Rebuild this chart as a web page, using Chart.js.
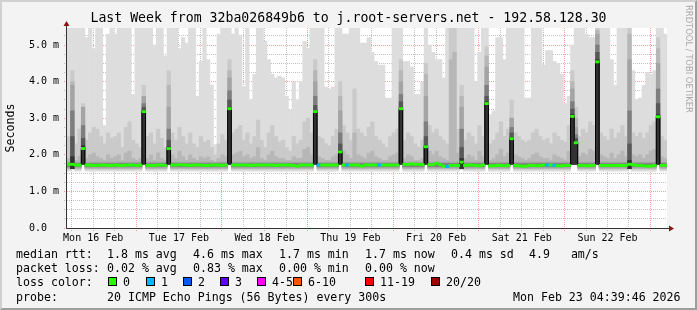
<!DOCTYPE html>
<html>
<head>
<meta charset="utf-8">
<script src="https://cdn.jsdelivr.net/npm/chart.js@4.4.0/dist/chart.umd.min.js"></script>
<style>
  html, body { margin: 0; padding: 0; background: #f3f3f3; }
  #wrap { position: relative; width: 697px; height: 310px; overflow: hidden; background: #f3f3f3; }
  #chart { position: absolute; left: 0; top: 0; }
  #frame { position: absolute; left: 0; top: 0; width: 697px; height: 310px; box-sizing: border-box;
           border-style: solid; border-width: 2px; border-color: #d0d0d0 #9e9e9e #9e9e9e #d0d0d0; pointer-events: none; }
  .lg { position: absolute; font-family: 'DejaVu Sans Mono', monospace; font-size: 11.6px; line-height: 14px; white-space: pre; color: #000; }
  .box { position: absolute; width: 7px; height: 7px; border: 1px solid #000; }
  #mark { position: absolute; left: 683px; top: 5px; writing-mode: vertical-rl; font-family: 'DejaVu Sans', sans-serif;
          font-size: 8.4px; line-height: 11px; color: #aaa; white-space: nowrap; }
</style>
</head>
<body>
<div id="wrap">
  <canvas id="chart" width="697" height="310"></canvas>
  <div id="mark">RRDTOOL / TOBI OETIKER</div>

  <div class="lg" style="left:16px;top:247px">median rtt:</div>
  <div class="lg" style="left:107px;top:247px">1.8 ms avg</div>
  <div class="lg" style="left:193px;top:247px">4.6 ms max</div>
  <div class="lg" style="left:279px;top:247px">1.7 ms min</div>
  <div class="lg" style="left:365px;top:247px">1.7 ms now</div>
  <div class="lg" style="left:451px;top:247px">0.4 ms sd</div>
  <div class="lg" style="left:529px;top:247px">4.9   am/s</div>

  <div class="lg" style="left:16px;top:261px">packet loss:</div>
  <div class="lg" style="left:107px;top:261px">0.02 % avg</div>
  <div class="lg" style="left:193px;top:261px">0.83 % max</div>
  <div class="lg" style="left:279px;top:261px">0.00 % min</div>
  <div class="lg" style="left:365px;top:261px">0.00 % now</div>

  <div class="lg" style="left:16px;top:275px">loss color:</div>
  <div id="lossLegend"></div>

  <div class="lg" style="left:16px;top:290px">probe:</div>
  <div class="lg" style="left:107px;top:290px">20 ICMP Echo Pings (56 Bytes) every 300s</div>
  <div class="lg" style="left:513px;top:290px">Mon Feb 23 04:39:46 2026</div>

  <div id="frame"></div>
</div>
<script>
// time axis: hours since Mon 16 Feb 00:00, one smoke bin per hour
const dayLabels = ["Mon 16 Feb", "Tue 17 Feb", "Wed 18 Feb", "Thu 19 Feb", "Fri 20 Feb", "Sat 21 Feb", "Sun 22 Feb"];
const startHour = 4.663; // Mon 16 Feb 04:39:46
const endHour = startHour + 168;
const yMax = 5.465; // ms

// top of the lightest smoke (slowest ping), ms
const smokeMax = [
  5.5, 5.5, 5.5, 5.5, 5.5, 5.2, 5.5, 4.9, 5.5, 5.5, 2.8, 5.3,
  5.5, 5.3, 5.5, 5.5, 5.5, 5.5, 3.65, 5.5, 5.5, 5.5, 5.5, 5.5,
  5.0, 5.5, 5.5, 4.7, 5.5, 5.5, 5.5, 4.9, 5.2, 5.05, 5.5, 5.5,
  3.6, 4.55, 5.5, 4.6, 3.9, 2.28, 5.3, 5.5, 5.5, 5.5, 5.3, 5.5,
  5.27, 3.86, 5.5, 3.5, 4.2, 5.5, 5.5, 5.1, 4.6, 4.2, 4.1, 4.15,
  4.1, 3.6, 3.22, 4.0, 3.5, 4.0, 5.1, 4.9, 5.5, 5.5, 5.5, 5.5,
  3.85, 3.8, 3.85, 5.5, 5.5, 5.3, 5.3, 5.5, 5.5, 5.5, 5.05, 5.05,
  5.2, 4.8, 4.55, 4.45, 4.45, 3.55, 3.55, 5.5, 5.5, 5.5, 4.55, 4.55,
  4.4, 3.65, 3.65, 4.0, 5.5, 5.0, 4.8, 4.6, 4.6, 4.1, 5.5, 5.5,
  5.5, 5.5, 5.5, 5.5, 5.5, 5.5, 4.0, 4.8, 5.5, 5.5, 3.1, 3.2,
  5.2, 5.2, 4.6, 5.5, 5.5, 5.5, 5.5, 5.5, 3.55, 3.55, 5.5, 5.5,
  5.5, 4.45, 4.85, 4.85, 4.55, 4.5, 4.2, 3.4, 3.6, 5.0, 5.5, 5.5,
  5.5, 5.3, 5.2, 5.2, 5.5, 5.5, 5.5, 5.5, 4.6, 3.9, 5.5, 5.5,
  5.5, 5.5, 4.3, 3.5, 3.55, 3.9, 4.25, 4.2, 4.3, 5.5, 5.5, 5.3
];

// second slowest ping (top of next smoke layer), ms
const smokeP19 = [
  2.5, 4.3, 2.3, 2.7, 3.4, 2.4, 2.6, 2.75, 2.7, 2.5, 2.3, 2.6,
  2.45, 2.5, 2.6, 2.2, 2.75, 2.9, 2.4, 2.3, 2.2, 3.9, 2.5, 2.6,
  2.3, 2.7, 2.45, 2.2, 4.3, 2.6, 2.4, 2.75, 2.5, 2.3, 2.6, 2.3,
  2.2, 2.5, 2.35, 2.4, 2.2, 2.0, 2.3, 2.55, 2.4, 4.6, 2.6, 2.7,
  2.8, 2.4, 2.6, 2.3, 2.5, 2.95, 2.4, 2.2, 2.6, 2.8, 2.5, 2.35,
  2.4, 2.2, 2.1, 2.5, 2.3, 2.4, 2.9, 3.0, 2.6, 4.6, 2.5, 2.45,
  2.3, 2.25, 2.5, 2.7, 4.0, 2.8, 2.6, 2.4, 3.8, 2.7, 2.6, 2.5,
  2.75, 2.9, 2.5, 2.4, 2.3, 2.2, 2.5, 2.6, 2.7, 4.6, 2.4, 2.6,
  2.5, 2.3, 2.2, 2.4, 4.5, 2.8, 2.6, 2.7, 2.5, 2.4, 2.3, 5.5,
  5.5, 2.7, 3.9, 2.4, 2.6, 2.5, 2.3, 2.8, 2.5, 4.95, 2.3, 2.4,
  2.6, 2.9, 2.5, 2.7, 3.5, 2.6, 2.5, 2.4, 2.35, 2.4, 2.6, 2.7,
  2.5, 2.4, 2.45, 2.3, 2.6, 2.5, 2.4, 2.35, 2.8, 4.3, 3.3, 2.5,
  2.7, 2.6, 2.9, 2.8, 5.5, 2.6, 2.5, 2.4, 2.7, 2.45, 2.6, 2.8,
  2.5, 5.5, 2.6, 2.5, 2.6, 2.45, 2.6, 2.8, 2.9, 5.2, 2.5, 2.4
];

// third slowest ping, ms
const smokeP18 = [
  1.9, 4.0, 1.85, 1.95, 3.0, 1.9, 2.0, 2.05, 1.95, 1.9, 1.85, 2.0,
  1.9, 1.95, 2.0, 1.85, 2.05, 2.1, 1.9, 1.85, 1.9, 3.6, 1.9, 2.0,
  1.85, 2.05, 1.9, 1.85, 3.9, 2.0, 1.9, 2.1, 1.95, 1.85, 2.0, 1.9,
  1.85, 1.95, 1.9, 1.95, 1.85, 1.8, 1.9, 2.0, 1.95, 4.3, 2.0, 2.05,
  2.1, 1.95, 2.0, 1.9, 1.95, 2.2, 1.9, 1.85, 2.0, 2.1, 1.95, 1.9,
  1.9, 1.85, 1.85, 1.95, 1.9, 1.9, 2.15, 2.2, 2.0, 4.3, 1.95, 1.9,
  1.85, 1.85, 1.95, 2.0, 3.6, 2.1, 2.0, 1.9, 2.6, 2.0, 1.95, 1.9,
  2.05, 2.1, 1.95, 1.9, 1.85, 1.85, 1.95, 2.0, 2.05, 4.3, 1.9, 2.0,
  1.95, 1.85, 1.85, 1.9, 4.2, 2.1, 2.0, 2.1, 1.95, 1.9, 1.85, 4.6,
  4.8, 2.05, 3.6, 1.9, 2.0, 1.95, 1.85, 2.1, 1.95, 4.7, 1.85, 1.9,
  2.0, 2.15, 1.95, 2.05, 3.0, 2.0, 1.95, 1.9, 1.85, 1.9, 2.0, 2.05,
  1.95, 1.9, 1.9, 1.85, 2.0, 1.95, 1.9, 1.85, 2.1, 4.0, 3.0, 1.95,
  2.05, 2.0, 2.15, 2.1, 5.4, 2.0, 1.95, 1.9, 2.05, 1.9, 2.0, 2.1,
  1.95, 5.3, 2.0, 1.95, 2.0, 1.9, 2.0, 2.1, 2.15, 4.9, 1.95, 1.9
];

// median rtt per hour, ms
const medianRtt = [
  1.74, 1.74, 1.72, 1.72, 2.17, 1.72, 1.72, 1.71, 1.71, 1.72, 1.72, 1.71,
  1.71, 1.72, 1.71, 1.71, 1.72, 1.72, 1.72, 1.71, 1.72, 3.18, 1.71, 1.71,
  1.71, 1.72, 1.72, 1.71, 2.17, 1.72, 1.72, 1.73, 1.72, 1.72, 1.71, 1.72,
  1.72, 1.72, 1.71, 1.71, 1.72, 1.72, 1.72, 1.71, 1.72, 3.26, 1.72, 1.72,
  1.72, 1.72, 1.72, 1.71, 1.72, 1.72, 1.72, 1.72, 1.72, 1.72, 1.71, 1.72,
  1.72, 1.72, 1.72, 1.71, 1.69, 1.72, 1.72, 1.72, 1.72, 3.18, 1.72, 1.72,
  1.72, 1.72, 1.72, 1.72, 2.08, 1.72, 1.72, 1.72, 1.72, 1.72, 1.69, 1.72,
  1.72, 1.72, 1.72, 1.72, 1.72, 1.72, 1.72, 1.72, 1.72, 3.26, 1.74, 1.74,
  1.75, 1.74, 1.74, 1.73, 2.22, 1.73, 1.73, 1.77, 1.73, 1.69, 1.68, 1.71,
  1.71, 1.71, 1.80, 1.71, 1.72, 1.72, 1.71, 1.70, 1.72, 3.40, 1.70, 1.70,
  1.71, 1.71, 1.70, 1.71, 2.44, 1.71, 1.70, 1.69, 1.69, 1.71, 1.71, 1.70,
  1.71, 1.72, 1.72, 1.72, 1.71, 1.70, 1.70, 1.71, 1.71, 3.05, 2.33, 1.71,
  1.71, 1.70, 1.71, 1.71, 4.54, 1.71, 1.71, 1.71, 1.71, 1.71, 1.71, 1.71,
  1.71, 1.74, 1.73, 1.71, 1.71, 1.70, 1.69, 1.69, 1.71, 3.04, 1.71, 1.71
];

// hours where 1 of 20 pings was lost
const lossOneBins = [70, 78, 87, 106, 134, 136];

// dark smoke columns: bin -> [bottom, top #a4a4a4, top #7e7e7e, top #585858, top #323232]
const darkColumns = {
  1: [1.62, 3.9, 3.2, 2.5, 1.95],
  4: [1.74, 3.3, 2.8, 2.45, 2.25],
  21: [1.74, 3.6, 3.4, 3.3, 3.22],
  28: [1.74, 3.3, 2.7, 2.4, 2.22],
  45: [1.74, 4.1, 3.75, 3.5, 3.3],
  69: [1.74, 4.0, 3.6, 3.35, 3.22],
  76: [1.74, 3.2, 2.6, 2.3, 2.12],
  93: [1.74, 4.0, 3.65, 3.45, 3.3],
  100: [1.74, 3.6, 2.9, 2.5, 2.26],
  110: [1.62, 3.3, 2.7, 2.2, 1.9],
  117: [1.74, 4.4, 3.9, 3.6, 3.45],
  124: [1.74, 3.0, 2.75, 2.6, 2.48],
  141: [1.74, 3.8, 3.45, 3.25, 3.1],
  142: [1.74, 2.75, 2.55, 2.45, 2.37],
  148: [1.74, 5.3, 5.0, 4.8, 4.6],
  157: [1.62, 4.6, 3.2, 2.3, 1.85],
  165: [1.74, 4.5, 3.8, 3.4, 3.1]
};

// fastest pings, shared by ordinary hours
const smokeFloor = [1.55, 1.60, 1.63];
const coreBand = [[1.64, 1.80], [1.68, 1.76]];

const lossNames = ["0", "1", "2", "3", "4-5", "6-10", "11-19", "20/20"];
const lossColors = ["#26ff00", "#00b8ff", "#0059ff", "#5e00ff", "#ff00fe", "#ff5500", "#ff0000", "#a10000"];
const smokeGrays = ["#dddddd", "#cacaca", "#b7b7b7", "#a4a4a4", "#7e7e7e", "#585858", "#323232"];

// legend boxes
const boxLeft = [108, 146, 183, 220, 257, 293, 365, 431];
const lossLegend = document.getElementById("lossLegend");
lossNames.forEach((name, k) => {
  const b = document.createElement("div");
  b.className = "box";
  b.style.left = boxLeft[k] + "px";
  b.style.top = "277px";
  b.style.background = lossColors[k];
  lossLegend.appendChild(b);
  const t = document.createElement("div");
  t.className = "lg";
  t.style.left = (boxLeft[k] + 15) + "px";
  t.style.top = "275px";
  t.textContent = name;
  lossLegend.appendChild(t);
});

const center = i => startHour + i + 0.5;

// smoke layers as floating bars
const layers = [[], [], [], [], [], [], []];
medianRtt.forEach((m, i) => {
  const dark = darkColumns[i];
  const tops = [smokeMax[i], smokeP19[i], smokeP18[i]];
  tops.forEach((top, k) => {
    layers[k].push({ x: center(i), y: [dark ? dark[0] : smokeFloor[k], top] });
  });
  if (dark) {
    for (let k = 0; k < 4; k++) layers[3 + k].push({ x: center(i), y: [dark[0], dark[1 + k]] });
  } else {
    layers[3].push({ x: center(i), y: coreBand[0] });
    layers[4].push({ x: center(i), y: coreBand[1] });
  }
});

const smokeSets = layers.map((data, k) => ({
  type: "bar",
  data: data,
  backgroundColor: smokeGrays[k],
  borderWidth: 0,
  grouped: false,
  barPercentage: 1,
  categoryPercentage: 1,
  order: 20 - k
}));

// median line (stepped) and loss coloured marks
const medianLine = medianRtt.map((m, i) => ({ x: startHour + i, y: m }));
medianLine.push({ x: endHour, y: medianRtt[medianRtt.length - 1] });

const medianMarks = medianRtt.map((m, i) => ({ x: center(i), y: [m - 0.03, m + 0.03] }));
const markColors = medianRtt.map((m, i) => lossOneBins.includes(i) ? lossColors[1] : lossColors[0]);

const bgPlugin = {
  id: "plotBg",
  beforeDraw(chart) {
    const { ctx, chartArea: a } = chart;
    ctx.save();
    ctx.fillStyle = "#ffffff";
    ctx.fillRect(a.left, a.top, a.right - a.left, a.bottom - a.top);
    ctx.restore();
  },
  afterDraw(chart) {
    const { ctx, chartArea: a } = chart;
    ctx.save();
    ctx.strokeStyle = "#333333";
    ctx.lineWidth = 1;
    ctx.beginPath();
    ctx.moveTo(a.left - 0.5, a.bottom + 0.5);
    ctx.lineTo(a.right + 3, a.bottom + 0.5);
    ctx.moveTo(a.left - 0.5, a.bottom + 0.5);
    ctx.lineTo(a.left - 0.5, a.top - 3);
    ctx.stroke();
    ctx.fillStyle = "#8c1414";
    ctx.beginPath();
    ctx.moveTo(a.right + 7, a.bottom + 0.5);
    ctx.lineTo(a.right + 2, a.bottom - 2.5);
    ctx.lineTo(a.right + 2, a.bottom + 3.5);
    ctx.fill();
    ctx.beginPath();
    ctx.moveTo(a.left - 0.5, a.top - 7);
    ctx.lineTo(a.left - 3.5, a.top - 2);
    ctx.lineTo(a.left + 2.5, a.top - 2);
    ctx.fill();
    ctx.restore();
  }
};

const monoFont = { family: "'DejaVu Sans Mono', monospace", size: 10 };
const majorGrid = "rgba(255,0,0,0.38)";
const minorGrid = "rgba(120,120,120,0.45)";

new Chart(document.getElementById("chart"), {
  type: "bar",
  data: {
    datasets: [
      ...smokeSets,
      {
        type: "line",
        data: medianLine,
        borderColor: "#000000",
        borderWidth: 1,
        pointRadius: 0,
        stepped: true,
        fill: false,
        order: 2
      },
      {
        type: "bar",
        data: medianMarks,
        backgroundColor: markColors,
        borderWidth: 0,
        grouped: false,
        barPercentage: 1,
        categoryPercentage: 1,
        order: 1
      }
    ]
  },
  options: {
    responsive: false,
    animation: false,
    events: [],
    layout: { padding: 0 },
    plugins: {
      legend: { display: false },
      tooltip: { enabled: false },
      title: {
        display: true,
        text: "Last Week from 32ba026849b6 to j.root-servers.net - 192.58.128.30",
        color: "#000",
        font: { family: "'DejaVu Sans Mono', monospace", size: 13.2, weight: "normal", lineHeight: 1.2 },
        padding: { top: 11, bottom: 1.16 }
      }
    },
    scales: {
      x: {
        type: "linear",
        min: startHour,
        max: endHour,
        offset: false,
        z: 1,
        afterBuildTicks: s => {
          s.ticks = [];
          for (let h = 6; h < endHour; h += 6) if (h > startHour) s.ticks.push({ value: h });
        },
        afterFit: s => { s.height = 82; },
        grid: {
          offset: false,
          color: c => (c.tick && c.tick.value % 24 === 0) ? majorGrid : minorGrid,
          drawTicks: true,
          tickLength: 3,
          tickBorderDash: [1, 1],
          tickColor: c => (c.tick && c.tick.value % 24 === 0) ? majorGrid : minorGrid
        },
        border: { display: false, dash: [1, 1] },
        ticks: {
          autoSkip: false,
          maxRotation: 0,
          padding: 1,
          color: "#000",
          font: monoFont,
          callback: v => v % 24 === 12 ? dayLabels[Math.floor(v / 24)] : ""
        }
      },
      y: {
        min: 0,
        max: yMax,
        z: 1,
        afterBuildTicks: s => {
          s.ticks = [];
          for (let k = 0; k <= 21; k++) s.ticks.push({ value: k * 0.25 });
        },
        afterFit: s => { s.width = 67; },
        grid: {
          color: c => (c.tick && Number.isInteger(c.tick.value)) ? majorGrid : minorGrid,
          drawTicks: true,
          tickLength: 3,
          tickBorderDash: [1, 1],
          tickColor: c => (c.tick && Number.isInteger(c.tick.value)) ? majorGrid : minorGrid
        },
        border: { display: false, dash: [1, 1] },
        ticks: {
          autoSkip: false,
          padding: 5,
          color: "#000",
          font: monoFont,
          callback: v => Number.isInteger(v) ? (v === 0 ? "0.0  " : v.toFixed(1) + " m") : ""
        },
        title: {
          display: true,
          text: "Seconds",
          color: "#000",
          font: { family: "'DejaVu Sans Mono', monospace", size: 11.6 },
          padding: { top: 4, bottom: 0 }
        }
      },
      yr: {
        position: "right",
        display: true,
        grid: { display: false },
        border: { display: false },
        ticks: { display: false },
        afterFit: s => { s.width = 30; }
      }
    }
  },
  plugins: [bgPlugin]
});
</script>
</body>
</html>
